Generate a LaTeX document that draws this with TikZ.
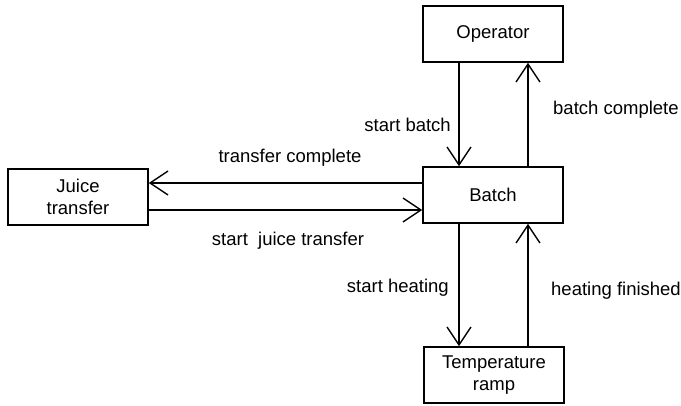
\documentclass[tikz,border=0pt]{standalone}
\usepackage{fontspec}
\setmainfont{Liberation Sans}
\usetikzlibrary{arrows.meta}
\begin{document}
\begin{tikzpicture}[x=1pt,y=-1pt,
  box/.style={draw,line width=1.6pt,minimum width=140pt,minimum height=56pt,align=center,font=\fontsize{18.5}{22}\selectfont,inner sep=0pt},
  conn/.style={line width=1.4pt,-{Straight Barb[length=18pt,width=24pt,line width=1.4pt]}},
  lab/.style={font=\fontsize{18.5}{22}\selectfont,inner sep=0pt}]
\useasboundingbox (0,0) rectangle (681,405);
\node[box] (juice) at (78,197) {Juice\\transfer};
\node[box] (oper) at (493,34) {Operator};
\node[box] (batch) at (493,195) {Batch};
\node[box] (temp) at (494,375) {Temperature\\ramp};
\coordinate (bTopL) at (459,167);
\draw[conn] (oper.south -| bTopL) -- (batch.north -| bTopL);
\coordinate (bR) at (528,167);
\draw[conn] (batch.north -| bR) -- (oper.south -| bR);
\coordinate (hT) at (0,183);
\coordinate (hB) at (0,210);
\draw[conn] (batch.west |- hT) -- (juice.east |- hT);
\draw[conn] (juice.east |- hB) -- (batch.west |- hB);
\draw[conn] (batch.south -| bTopL) -- (temp.north -| bTopL);
\draw[conn] (temp.north -| bR) -- (batch.south -| bR);
\node[lab] (l1) at (290,158) {transfer complete};
\node[lab] (l2) at (288,241) {start\ \ juice transfer};
\node[lab,anchor=east] (l3) at (451,125) {start batch};
\node[lab,anchor=west] (l4) at (553,110) {batch complete};
\node[lab,anchor=east] (l5) at (449,288) {start heating};
\node[lab,anchor=west] (l6) at (551,291) {heating finished};
\end{tikzpicture}
\end{document}
